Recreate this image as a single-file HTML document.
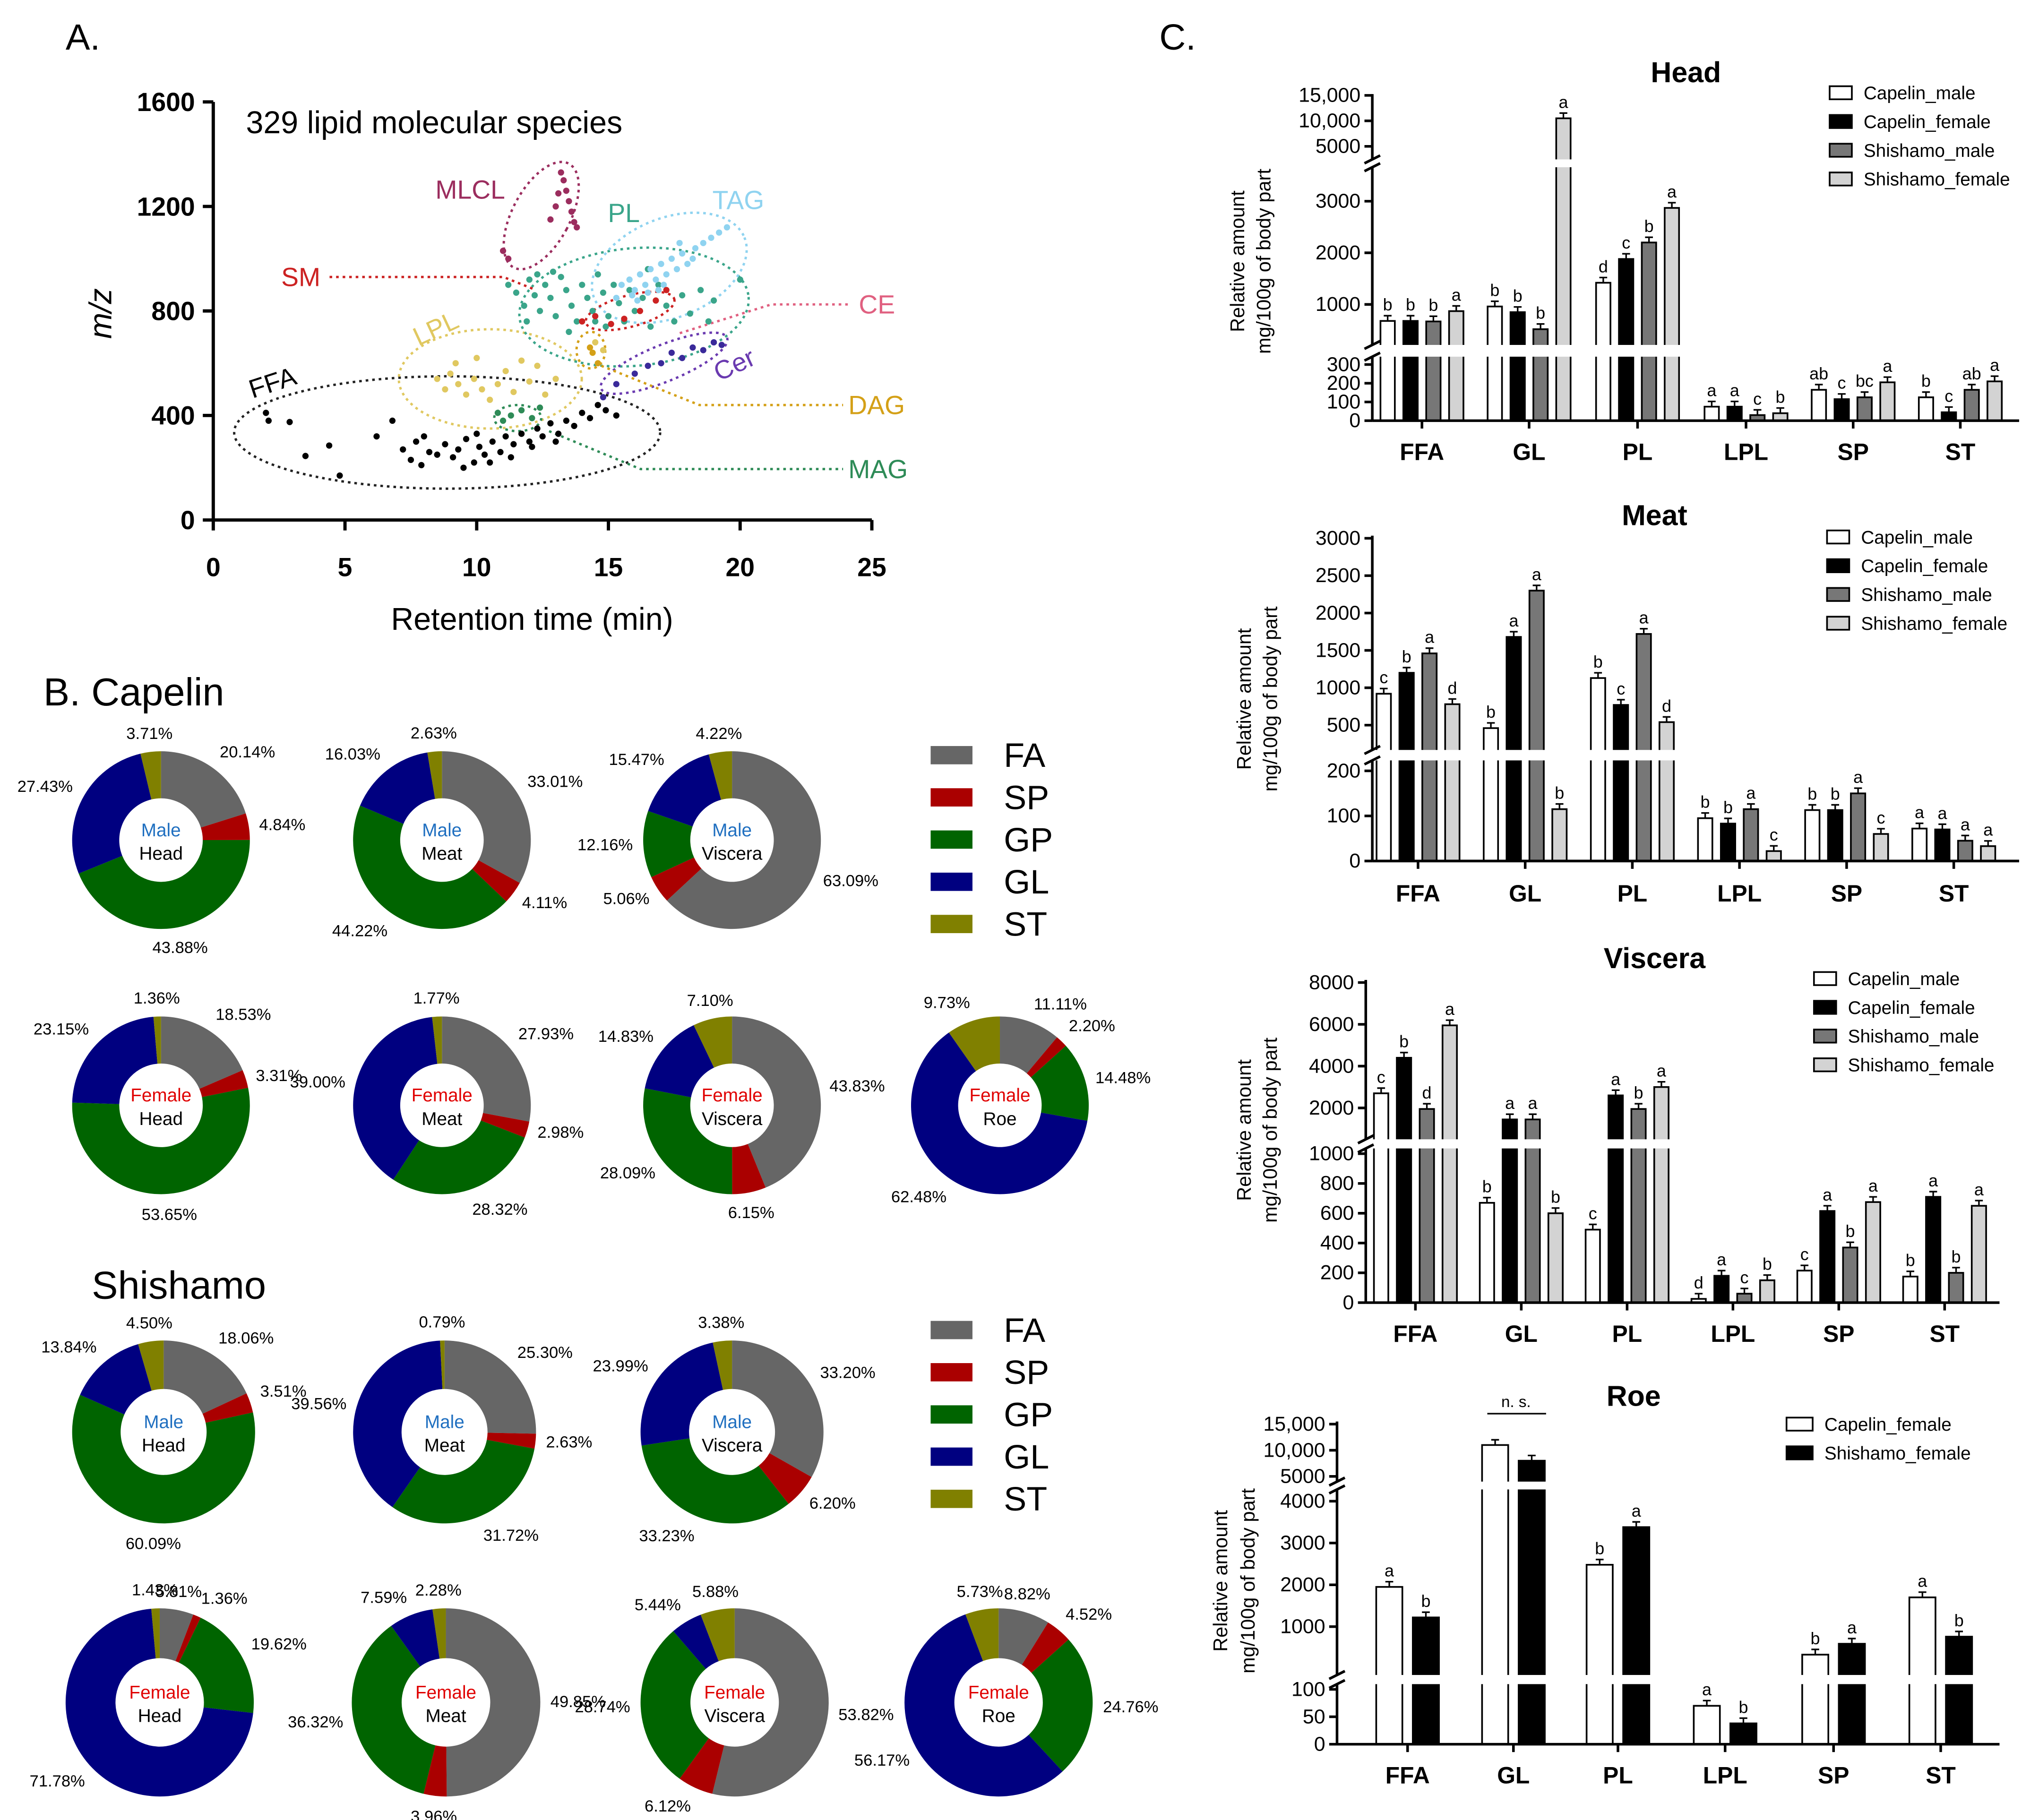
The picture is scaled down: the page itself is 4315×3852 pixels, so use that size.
<!DOCTYPE html>
<html><head><meta charset="utf-8"><title>Lipid figure</title>
<style>
html,body{margin:0;padding:0;background:#fff}
svg{display:block;font-family:"Liberation Sans",Arial,sans-serif}
</style></head>
<body>
<svg id="fig" xmlns="http://www.w3.org/2000/svg" width="4315" height="3852" viewBox="0 0 1560 1393">
<rect width="1560" height="1393" fill="#fff"/>
</svg>
<script>
// ---------- Scatter data (retention time, m/z) ----------
const ffaPts=[[2.0,410],[2.1,380],[2.9,375],[3.5,245],[4.4,285],[4.8,170],[6.2,320],[6.8,380],[7.2,270],[7.5,230],[7.7,300],[7.9,210],[8.2,260],[8.5,250],[8.8,290],[9.1,240],[9.3,270],[9.6,310],[9.9,220],[10.1,280],[10.3,250],[10.6,300],[10.9,260],[11.1,320],[11.4,290],[11.7,330],[12.0,300],[12.3,350],[12.5,320],[12.8,370],[13.1,330],[13.4,380],[13.7,360],[14.0,410],[14.3,390],[14.6,440],[14.9,420],[15.3,400],[10.5,220],[11.3,240],[9.5,200],[12.1,280],[13.0,300],[8.0,320],[10.0,330]];
const lplPts=[[8.5,540],[8.8,500],[9.0,560],[9.3,520],[9.6,480],[9.9,540],[10.2,500],[10.5,460],[10.8,520],[11.1,570],[11.4,490],[11.7,610],[12.0,530],[12.3,590],[12.6,480],[9.2,600],[10.0,620],[13.0,540],[14.5,680],[14.8,650]];
const magPts=[[10.8,410],[11.3,400],[11.7,420],[12.1,390],[12.4,430],[11.0,380]];
const dagPts=[[14.4,640],[14.6,600],[14.3,660]];
const mlclPts=[[11.0,1030],[11.2,1000],[12.8,1150],[13.0,1200],[13.2,1330],[13.4,1260],[13.5,1220],[13.6,1180],[13.7,1140],[13.3,1300],[13.8,1120],[13.1,1250]];
const plPts=[[11.2,900],[11.5,870],[11.8,820],[12.0,920],[12.2,860],[12.4,800],[12.6,900],[12.8,850],[13.0,780],[13.2,930],[13.4,880],[13.6,820],[13.8,760],[14.0,900],[14.2,850],[14.4,800],[14.6,940],[14.8,870],[15.0,780],[15.2,900],[15.4,830],[15.6,760],[15.8,880],[16.0,800],[16.3,850],[16.6,740],[16.9,900],[17.2,820],[17.5,760],[17.8,860],[18.1,790],[18.5,880],[19.0,840],[20.0,920],[12.9,950],[11.9,760],[13.5,720],[14.9,740],[16.5,960],[18.8,760],[12.3,940],[14.5,760]];
const tagPts=[[15.5,900],[15.8,920],[16.0,880],[16.2,940],[16.4,900],[16.6,960],[16.8,920],[17.0,980],[17.2,940],[17.4,1000],[17.6,960],[17.8,1020],[18.0,980],[18.3,1040],[18.6,1060],[18.9,1080],[19.2,1100],[19.5,1120],[15.9,860],[16.5,870],[17.1,900],[15.3,850],[16.1,840],[16.9,880],[17.7,1060],[18.2,1000]];
const smPts=[[14.0,760],[14.5,780],[15.1,750],[15.6,770],[16.2,800],[16.8,840],[17.2,880]];
const cerPts=[[16.0,560],[16.5,590],[17.0,600],[17.4,640],[17.8,620],[18.2,660],[18.6,650],[19.0,680],[19.3,670],[15.3,520],[14.8,470]];
const xTicksA=[0,5,10,15,20,25];
const yTicksA=[0,400,800,1200,1600];

// ---------- Donut data [FA,SP,GP,GL,ST] ----------
const donutClasses=["FA","SP","GP","GL","ST"];
const capMaleHead=[20.14,4.84,43.88,27.43,3.71];
const capMaleMeat=[33.01,4.11,44.22,16.03,2.63];
const capMaleViscera=[63.09,5.06,12.16,15.47,4.22];
const capFemaleHead=[18.53,3.31,53.65,23.15,1.36];
const capFemaleMeat=[27.93,2.98,28.32,39.00,1.77];
const capFemaleViscera=[43.83,6.15,28.09,14.83,7.10];
const capFemaleRoe=[11.11,2.20,14.48,62.48,9.73];
const shiMaleHead=[18.06,3.51,60.09,13.84,4.50];
const shiMaleMeat=[25.30,2.63,31.72,39.56,0.79];
const shiMaleViscera=[33.20,6.20,33.23,23.99,3.38];
const shiFemaleHead=[5.81,1.36,19.62,71.78,1.43];
const shiFemaleMeat=[49.85,3.96,36.32,7.59,2.28];
const shiFemaleViscera=[53.82,6.12,28.74,5.44,5.88];
const shiFemaleRoe=[8.82,4.52,24.76,56.17,5.73];

// ---------- Bar data ----------
const barCats=["FFA","GL","PL","LPL","SP","ST"];
const headCapM=[680,960,1420,75,165,125];
const headCapF=[680,850,1880,75,115,45];
const headShiM=[670,520,2200,30,125,165];
const headShiF=[870,10500,2870,40,205,210];
const headLetters=[["b","b","b","a"],["b","b","b","a"],["d","c","b","a"],["a","a","c","b"],["ab","c","bc","a"],["b","c","ab","a"]];
const headTicks=[0,100,200,300,1000,2000,3000,5000,10000,15000];
const meatCapM=[920,460,1130,95,113,72];
const meatCapF=[1200,1680,770,83,113,70];
const meatShiM=[1460,2300,1720,115,150,45];
const meatShiF=[780,115,540,22,60,33];
const meatLetters=[["c","b","a","d"],["b","a","a","b"],["b","c","a","d"],["b","b","a","c"],["b","b","a","c"],["a","a","a","a"]];
const meatTicks=[0,100,200,500,1000,1500,2000,2500,3000];
const visCapM=[2700,670,490,25,215,175];
const visCapF=[4400,1450,2600,180,615,710];
const visShiM=[1950,1450,1950,60,370,200];
const visShiF=[5950,600,3000,150,675,650];
const visLetters=[["c","b","d","a"],["b","a","a","b"],["c","a","b","a"],["d","a","c","b"],["c","a","b","a"],["b","a","b","a"]];
const visTicks=[0,200,400,600,800,1000,2000,4000,6000,8000];
const roeCapF=[1950,11000,2480,70,330,1700];
const roeShiF=[1220,8000,3380,38,590,760];
const roeLetters=[["a","b"],["",""],["b","a"],["a","b"],["b","a"],["a","b"]];
const roeTicks=[0,50,100,1000,2000,3000,4000,5000,10000,15000];

const NS="http://www.w3.org/2000/svg";
const svg=document.getElementById("fig");
function el(tag,attrs,parent){const e=document.createElementNS(NS,tag);for(const k in attrs)e.setAttribute(k,attrs[k]);(parent||svg).appendChild(e);return e;}
function txt(x,y,s,attrs,parent){const e=el("text",Object.assign({x:x,y:y},attrs||{}),parent);e.textContent=s;return e;}

// ================= Panel A =================
const gA=el("g",{});


let t=txt(50,38,"A.",{"font-size":28},gA);

const ax0=163,ax1=667,ay0=398,ay1=78;
const sx=v=>ax0+v*(ax1-ax0)/25, sy=v=>ay0-v*(ay0-ay1)/1600;
el("line",{x1:ax0,y1:ay0,x2:ax1,y2:ay0,stroke:"#000","stroke-width":2.5},gA);
el("line",{x1:ax0,y1:ay0,x2:ax0,y2:ay1,stroke:"#000","stroke-width":2.5},gA);
xTicksA.forEach(v=>{el("line",{x1:sx(v),y1:ay0,x2:sx(v),y2:ay0+8,stroke:"#000","stroke-width":2.5},gA);
 const tt=txt(sx(v),441,String(v),{"font-size":20,"font-weight":"bold","text-anchor":"middle"},gA);
 });
yTicksA.forEach(v=>{el("line",{x1:ax0-8,y1:sy(v),x2:ax0,y2:sy(v),stroke:"#000","stroke-width":2.5},gA);
 const tt=txt(ax0-14,sy(v)+7,String(v),{"font-size":20,"font-weight":"bold","text-anchor":"end"},gA);
 });
t=txt(407,482,"Retention time (min)",{"font-size":24,"text-anchor":"middle"},gA);
t=txt(85,240,"m/z",{"font-size":24,"font-style":"italic","text-anchor":"middle",transform:"rotate(-90 85 240)"},gA);
t=txt(188,102,"329 lipid molecular species",{"font-size":24},gA);
function ell(cx,cy,rx,ry,rot,col,name){const e=el("ellipse",{cx:cx,cy:cy,rx:rx,ry:ry,fill:"none",stroke:col,"stroke-width":1.8,"stroke-dasharray":"2,3",transform:`rotate(${rot} ${cx} ${cy})`},gA);}
ell(342,331,163,43,0,"#222","ffa-ellipse");
ell(375,290,70,38,0,"#e0c860","lpl-ellipse");
ell(414,165,22,45,28,"#9b2d5e","mlcl-ellipse");
ell(485,235,88,45,-5,"#3aa58a","pl-ellipse");
ell(512,205,62,38,-22,"#8fd3f0","tag-ellipse");
ell(482,238,35,12,-15,"#cc2222","sm-ellipse");
ell(508,278,52,14,-22,"#6a3ab0","cer-ellipse");
ell(452,268,11,14,0,"#d4a017","dag-ellipse");
ell(396,320,18,10,0,"#2e8b57","mag-ellipse");
function lead(pts,col,name){const e=el("polyline",{points:pts,fill:"none",stroke:col,"stroke-width":1.8,"stroke-dasharray":"2,3"},gA);}
lead("252,212 385,212 410,222","#cc2222","sm-leader");
lead("520,255 590,233 650,233","#e06080","ce-leader");
lead("460,280 535,310 645,310","#d4a017","dag-leader");
lead("420,330 490,359 645,359","#2e8b57","mag-leader");
function lab(x,y,s,col,rot,name){const e=txt(x,y,s,{"font-size":20,fill:col,transform:`rotate(${rot} ${x} ${y})`},gA);}
lab(193,305,"FFA","#000",-18,"ffa-label");
lab(320,265,"LPL","#e0c860",-25,"lpl-label");
lab(333,152,"MLCL","#9b2d5e",0,"mlcl-label");
lab(465,170,"PL","#3aa58a",0,"pl-label");
lab(545,160,"TAG","#8fd3f0",0,"tag-label");
lab(215,219,"SM","#cc2222",0,"sm-label");
lab(657,240,"CE","#e06080",0,"ce-label");
lab(649,317,"DAG","#d4a017",0,"dag-label");
lab(649,366,"MAG","#2e8b57",0,"mag-label");
lab(550,292,"Cer","#6a3ab0",-25,"cer-label");
function pts(arr,col,name){arr.forEach(p=>{const c=el("circle",{cx:sx(p[0]),cy:sy(p[1]),r:2.4,fill:col},gA);});}
pts(ffaPts,"#000","ffa-point");pts(lplPts,"#e0c860","lpl-point");pts(magPts,"#2e8b57","mag-point");
pts(plPts,"#3aa58a","pl-point");pts(tagPts,"#8fd3f0","tag-point");pts(smPts,"#cc2222","sm-point");
pts(cerPts,"#3a2a9a","cer-point");pts(dagPts,"#d4a017","dag-point");pts(mlclPts,"#9b2d5e","mlcl-point");

// ================= Panel B =================
const dColors=["#666666","#aa0000","#006400","#000080","#808000"];
function donut(cx,cy,vals,sex,part,r,name){
 const g=el("g",{});
 const ri=r*0.47;let a=-Math.PI/2;const tot=vals.reduce((s,v)=>s+v,0);
 vals.forEach((v,i)=>{const da=v/tot*2*Math.PI,a2=a+da,lg=da>Math.PI?1:0;
  const P=(rr,an)=>(cx+rr*Math.cos(an)).toFixed(2)+","+(cy+rr*Math.sin(an)).toFixed(2);
  const p=el("path",{d:`M${P(r,a)} A${r},${r} 0 ${lg} 1 ${P(r,a2)} L${P(ri,a2)} A${ri},${ri} 0 ${lg} 0 ${P(ri,a)} Z`,fill:dColors[i]},g);
  
  const m=a+da/2,lr=r+8,lx=cx+lr*Math.cos(m),ly=cy+lr*Math.sin(m);
  const cs=Math.cos(m),sn=Math.sin(m);
  const anc=cs>0.3?"start":(cs<-0.3?"end":"middle");
  const dy=sn>0.3?12*sn:(sn<-0.3?-2:4);
  const l=txt(lx,ly+dy+(sn>0.3?0:0),v.toFixed(2)+"%",{"font-size":12.5,"text-anchor":anc},g);
  
  a=a2;});
 const c1=txt(cx,cy-3,sex,{"font-size":14,"text-anchor":"middle",fill:sex==="Male"?"#1f6fc0":"#e00000"},g);
 const c2=txt(cx,cy+15,part,{"font-size":14,"text-anchor":"middle"},g);
}
t=txt(33,540,"B. Capelin",{"font-size":30});
t=txt(70,994,"Shishamo",{"font-size":30});
donut(123,643,capMaleHead,"Male","Head",68,"donut-capelin-male-head");
donut(338,643,capMaleMeat,"Male","Meat",68,"donut-capelin-male-meat");
donut(560,643,capMaleViscera,"Male","Viscera",68,"donut-capelin-male-viscera");
donut(123,846,capFemaleHead,"Female","Head",68,"donut-capelin-female-head");
donut(338,846,capFemaleMeat,"Female","Meat",68,"donut-capelin-female-meat");
donut(560,846,capFemaleViscera,"Female","Viscera",68,"donut-capelin-female-viscera");
donut(765,846,capFemaleRoe,"Female","Roe",68,"donut-capelin-female-roe");
donut(125,1096,shiMaleHead,"Male","Head",70,"donut-shishamo-male-head");
donut(340,1096,shiMaleMeat,"Male","Meat",70,"donut-shishamo-male-meat");
donut(560,1096,shiMaleViscera,"Male","Viscera",70,"donut-shishamo-male-viscera");
donut(122,1303,shiFemaleHead,"Female","Head",72,"donut-shishamo-female-head");
donut(341,1303,shiFemaleMeat,"Female","Meat",72,"donut-shishamo-female-meat");
donut(562,1303,shiFemaleViscera,"Female","Viscera",72,"donut-shishamo-female-viscera");
donut(764,1303,shiFemaleRoe,"Female","Roe",72,"donut-shishamo-female-roe");
function dLegend(y0,name){const g=el("g",{});
 donutClasses.forEach((c,i)=>{const y=y0+i*32.3;const r=el("rect",{x:712,y:y-7,width:32,height:14,fill:dColors[i]},g);
  const l=txt(768,y+9,c,{"font-size":26},g);});}
dLegend(578,"capelin-donut-legend");dLegend(1018,"shishamo-donut-legend");

// ================= Panel C =================
t=txt(887,38,"C.",{"font-size":28});
const bFill=["#ffffff","#000000","#777777","#d3d3d3"];
function fmt(v){return v>=10000?v.toLocaleString("en-US"):String(v);}
function barChart(c){
 const g=el("g",{});
 const segs=c.segs;
 const map=v=>{for(const s of segs){if(v<=s.max)return s.b-v*s.k;}const s=segs[segs.length-1];return s.b-v*s.k;};
 const base=segs[0].b;
 const n=c.series.length;
 c.cats.forEach((cat,ci)=>{
  c.series.forEach((ser,si)=>{const v=ser[ci];const x=c.cx[ci]+(si-(n-1)/2)*c.step-c.bw/2;const y=map(v);
   const r=el("rect",{x:x,y:y,width:c.bw,height:base-y,fill:c.fills[si],stroke:"#000","stroke-width":1.3},g);
   
   el("line",{x1:x+c.bw/2,y1:y,x2:x+c.bw/2,y2:y-4,stroke:"#000","stroke-width":1.2},g);
   el("line",{x1:x+c.bw/2-3,y1:y-4,x2:x+c.bw/2+3,y2:y-4,stroke:"#000","stroke-width":1.2},g);
   const L=c.letters[ci][si];if(L){const lt=txt(x+c.bw/2,y-8,L,{"font-size":13,"text-anchor":"middle"},g);}
  });
  const cl=txt(c.cx[ci],c.catY,cat,{"font-size":18,"font-weight":"bold","text-anchor":"middle"},g);
 });
 for(let i=0;i<segs.length-1;i++){el("rect",{x:c.ax-8,y:segs[i+1].bottom,width:c.right-c.ax+10,height:segs[i].top-segs[i+1].bottom,fill:"#fff"},g);}
 segs.forEach((s,i)=>{const a=el("line",{x1:c.ax,y1:s.bottom,x2:c.ax,y2:s.top,stroke:"#000","stroke-width":2},g);
  if(i<segs.length-1){[s.top,segs[i+1].bottom].forEach(yy=>el("line",{x1:c.ax-6,y1:yy+3,x2:c.ax+6,y2:yy-3,stroke:"#000","stroke-width":2},g));}});
 const xa=el("line",{x1:c.ax,y1:base,x2:c.right,y2:base,stroke:"#000","stroke-width":2},g);
 c.cx.forEach(x=>el("line",{x1:x,y1:base,x2:x,y2:base+6,stroke:"#000","stroke-width":2},g));
 c.ticks.forEach(v=>{const y=map(v);el("line",{x1:c.ax-6,y1:y,x2:c.ax,y2:y,stroke:"#000","stroke-width":2},g);
  const tl=txt(c.ax-9,y+5,fmt(v),{"font-size":15.5,"text-anchor":"end"},g);});
 const tt=txt(c.title[1],c.title[2],c.title[0],{"font-size":22,"font-weight":"bold","text-anchor":"middle"},g);
 const yl1=txt(c.yl[0],c.yl[2],"Relative amount",{"font-size":15,"text-anchor":"middle",transform:`rotate(-90 ${c.yl[0]} ${c.yl[2]})`},g);
 const yl2=txt(c.yl[1],c.yl[2],"mg/100g of body part",{"font-size":15,"text-anchor":"middle",transform:`rotate(-90 ${c.yl[1]} ${c.yl[2]})`},g);
 c.snames.forEach((s,si)=>{const y=c.leg[1]+si*22;const r=el("rect",{x:c.leg[0],y:y-5,width:c.legW,height:10,fill:c.fills[si],stroke:"#000","stroke-width":1.3},g);
  const l=txt(c.leg[0]+c.legW+9,y+5,s,{"font-size":14},g);});
 return {g,map};
}
const snames4=["Capelin_male","Capelin_female","Shishamo_male","Shishamo_female"];
barChart({name:"head-bar-chart",cats:barCats,series:[headCapM,headCapF,headShiM,headShiF],snames:snames4,fills:bFill,letters:headLetters,ticks:headTicks,
 segs:[{max:340,b:322,k:0.14333,bottom:322,top:273},{max:3650,b:272.5,k:0.0395,bottom:264,top:128},{max:16000,b:131.5,k:0.0039,bottom:122,top:72}],
 ax:1050,right:1545,cx:[1088,1170,1253,1336,1418,1500],step:17.5,bw:11,catY:352,title:["Head",1290,63],yl:[952,972,200],leg:[1400,71],legW:17});
barChart({name:"meat-bar-chart",cats:barCats,series:[meatCapM,meatCapF,meatShiM,meatShiF],snames:snames4,fills:bFill,letters:meatLetters,ticks:meatTicks,
 segs:[{max:220,b:659,k:0.345,bottom:659,top:582},{max:3100,b:583.6,k:0.0572,bottom:574,top:410}],
 ax:1050,right:1545,cx:[1085,1167,1249,1331,1413,1495],step:17.5,bw:11,catY:690,title:["Meat",1266,402],yl:[957,977,535],leg:[1398,411],legW:17});
barChart({name:"viscera-bar-chart",cats:barCats,series:[visCapM,visCapF,visShiM,visShiF],snames:snames4,fills:bFill,letters:visLetters,ticks:visTicks,
 segs:[{max:1040,b:997,k:0.114,bottom:997,top:879},{max:8100,b:880,k:0.016,bottom:872,top:750}],
 ax:1045,right:1530,cx:[1083,1164,1245,1326,1407,1488],step:17.5,bw:11,catY:1027,title:["Viscera",1266,741],yl:[957,977,865],leg:[1388,749],legW:17});
const roe=barChart({name:"roe-bar-chart",cats:barCats,series:[roeCapF,roeShiF],snames:["Capelin_female","Shishamo_female"],fills:["#ffffff","#000000"],letters:roeLetters,ticks:roeTicks,
 segs:[{max:110,b:1335,k:0.42,bottom:1335,top:1289},{max:4300,b:1277,k:0.032,bottom:1282,top:1140},{max:16000,b:1150,k:0.004,bottom:1134,top:1088}],
 ax:1023,right:1530,cx:[1077,1158,1238,1320,1403,1485],step:28,bw:20,catY:1365,title:["Roe",1250,1076],yl:[939,960,1210],leg:[1367,1090],legW:20});
const ns=el("line",{x1:1138,y1:1082,x2:1183,y2:1082,stroke:"#000","stroke-width":1.2},roe.g);
t=txt(1160,1077,"n. s.",{"font-size":12,"text-anchor":"middle"},roe.g);
</script>
</body></html>
